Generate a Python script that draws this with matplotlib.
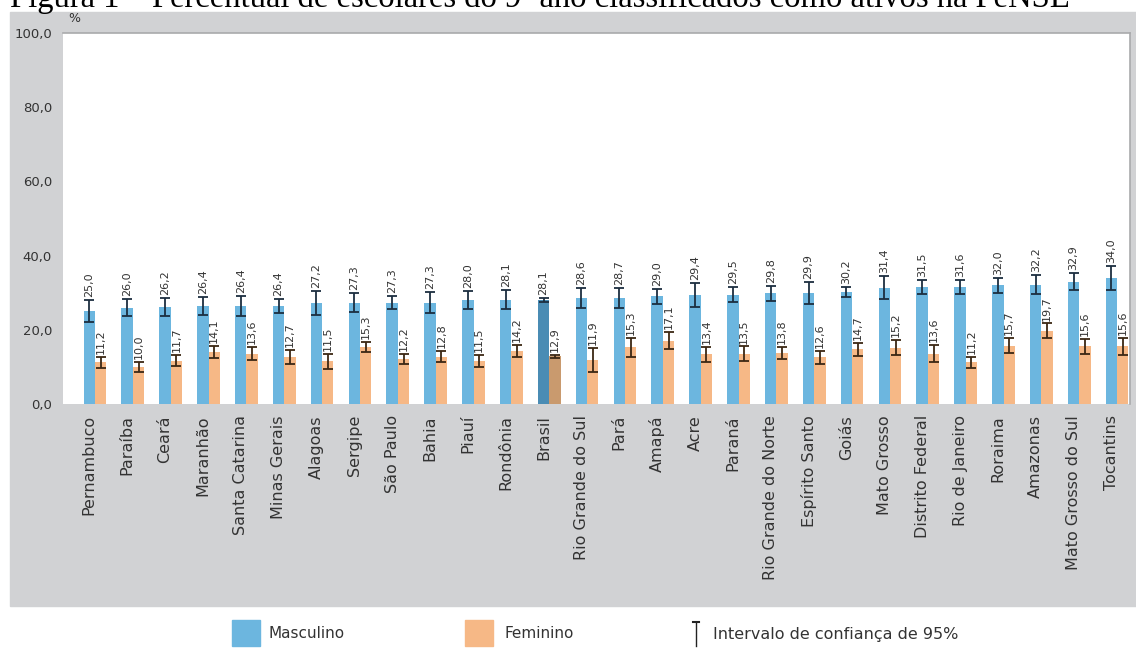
import numpy as np
import matplotlib.pyplot as plt
from matplotlib.patches import Rectangle

# Percentual de escolares ativos por UF e sexo (PeNSE)
ufs = ["Pernambuco", "Paraíba", "Ceará", "Maranhão", "Santa Catarina",
       "Minas Gerais", "Alagoas", "Sergipe", "São Paulo", "Bahia", "Piauí",
       "Rondônia", "Brasil", "Rio Grande do Sul", "Pará", "Amapá", "Acre",
       "Paraná", "Rio Grande do Norte", "Espírito Santo", "Goiás",
       "Mato Grosso", "Distrito Federal", "Rio de Janeiro", "Roraima",
       "Amazonas", "Mato Grosso do Sul", "Tocantins"]
masculino = [25.0, 26.0, 26.2, 26.4, 26.4, 26.4, 27.2, 27.3, 27.3, 27.3, 28.0,
             28.1, 28.1, 28.6, 28.7, 29.0, 29.4, 29.5, 29.8, 29.9, 30.2,
             31.4, 31.5, 31.6, 32.0, 32.2, 32.9, 34.0]
feminino = [11.2, 10.0, 11.7, 14.1, 13.6, 12.7, 11.5, 15.3, 12.2, 12.8, 11.5,
            14.2, 12.9, 11.9, 15.3, 17.1, 13.4, 13.5, 13.8, 12.6, 14.7,
            15.2, 13.6, 11.2, 15.7, 19.7, 15.6, 15.6]
# meia amplitude do intervalo de confiança de 95%
ic_masc = [3.0, 2.2, 2.5, 2.5, 2.6, 2.0, 3.2, 2.5, 1.7, 2.9, 2.4,
           2.6, 0.5, 2.8, 2.7, 2.1, 3.3, 2.1, 2.0, 3.0, 1.3,
           3.0, 1.9, 1.9, 2.0, 2.5, 2.3, 3.2]
ic_fem = [1.6, 1.4, 1.4, 1.6, 1.8, 1.8, 2.0, 1.4, 1.4, 1.6, 1.6,
          1.6, 0.4, 3.2, 2.5, 2.3, 2.0, 2.0, 1.6, 1.8, 1.8,
          2.0, 2.3, 1.6, 2.0, 2.0, 2.0, 2.3]
yticks = [0, 20, 40, 60, 80, 100]

azul, laranja = "#6cb6df", "#f6b886"
azul_br, laranja_br = "#4a8cb4", "#c99a6e"
cinza = "#d1d2d4"
texto = "#333333"

fig = plt.figure(figsize=(11.36, 6.51), dpi=100)
W, H = 1136, 651

# fundo cinza do quadro, atrás dos eixos
fig.patches.append(Rectangle((10 / W, 1 - 606 / H), 1 - 10 / W, (606 - 12) / H,
                             transform=fig.transFigure, color=cinza, zorder=-5))

fig.text(10 / W, 1 - 7 / H,
         "Figura 1 – Percentual de escolares do 9º ano classificados como ativos na PeNSE",
         family="Liberation Serif", fontsize=23.5, va="baseline", ha="left")

ax = fig.add_axes([63 / W, 1 - 404 / H, (1130 - 63) / W, (404 - 33) / H])
ax.set_facecolor("white")

x = np.arange(len(ufs))
w = 0.3
cores_m = [azul_br if u == "Brasil" else azul for u in ufs]
cores_f = [laranja_br if u == "Brasil" else laranja for u in ufs]

ax.bar(x - w / 2, masculino, w, color=cores_m, zorder=2)
ax.bar(x + w / 2, feminino, w, color=cores_f, zorder=2)
ax.errorbar(x - w / 2, masculino, yerr=ic_masc, fmt="none", ecolor="#1c2e40",
            elinewidth=1.3, capsize=3.5, capthick=1.3, zorder=3)
ax.errorbar(x + w / 2, feminino, yerr=ic_fem, fmt="none", ecolor="#3b2714",
            elinewidth=1.3, capsize=3.5, capthick=1.3, zorder=3)

for xi, v, e in zip(x, masculino, ic_masc):
    ax.text(xi - w / 2, v + e + 0.8, f"{v:.1f}".replace(".", ","), rotation=90,
            ha="center", va="bottom", fontsize=8, color=texto)
for xi, v, e in zip(x, feminino, ic_fem):
    ax.text(xi + w / 2, v + e + 0.8, f"{v:.1f}".replace(".", ","), rotation=90,
            ha="center", va="bottom", fontsize=8, color=texto)

ax.set_xlim(-0.845, 27.34)
ax.set_ylim(0, 100)
ax.set_yticks(yticks)
ax.set_yticklabels([f"{t:.1f}".replace(".", ",") for t in yticks],
                   fontsize=9.5, color=texto)
ax.set_xticks(x - 0.15)
ax.set_xticklabels(ufs, rotation=90, fontsize=11.5, color=texto)
ax.tick_params(length=0, pad=8)
for s in ("left", "bottom"):
    ax.spines[s].set_visible(False)
for s in ("top", "right"):
    ax.spines[s].set_color("#a9aaac")
    ax.spines[s].set_linewidth(1.2)

fig.text(68 / W, 1 - 19 / H, "%", fontsize=9, color=texto, va="center")

# legenda
fig.patches.append(Rectangle((232 / W, 1 - 646 / H), 28 / W, 26 / H,
                             transform=fig.transFigure, color=azul))
fig.text(268 / W, 1 - 634 / H, "Masculino", fontsize=11,
         color=texto, va="center")
fig.patches.append(Rectangle((465 / W, 1 - 646 / H), 28 / W, 26 / H,
                             transform=fig.transFigure, color=laranja))
fig.text(505 / W, 1 - 634 / H, "Feminino", fontsize=11,
         color=texto, va="center")
fig.add_artist(plt.Line2D([696 / W, 696 / W], [1 - 646 / H, 1 - 622 / H],
                          color="#222222", lw=1, transform=fig.transFigure))
fig.add_artist(plt.Line2D([693 / W, 699 / W], [1 - 622 / H, 1 - 622 / H],
                          color="#222222", lw=1.5, transform=fig.transFigure))
fig.text(713 / W, 1 - 634 / H, "Intervalo de confiança de 95%",
         fontsize=11.5, color=texto, va="center")

fig.savefig("out.png", dpi=100)
